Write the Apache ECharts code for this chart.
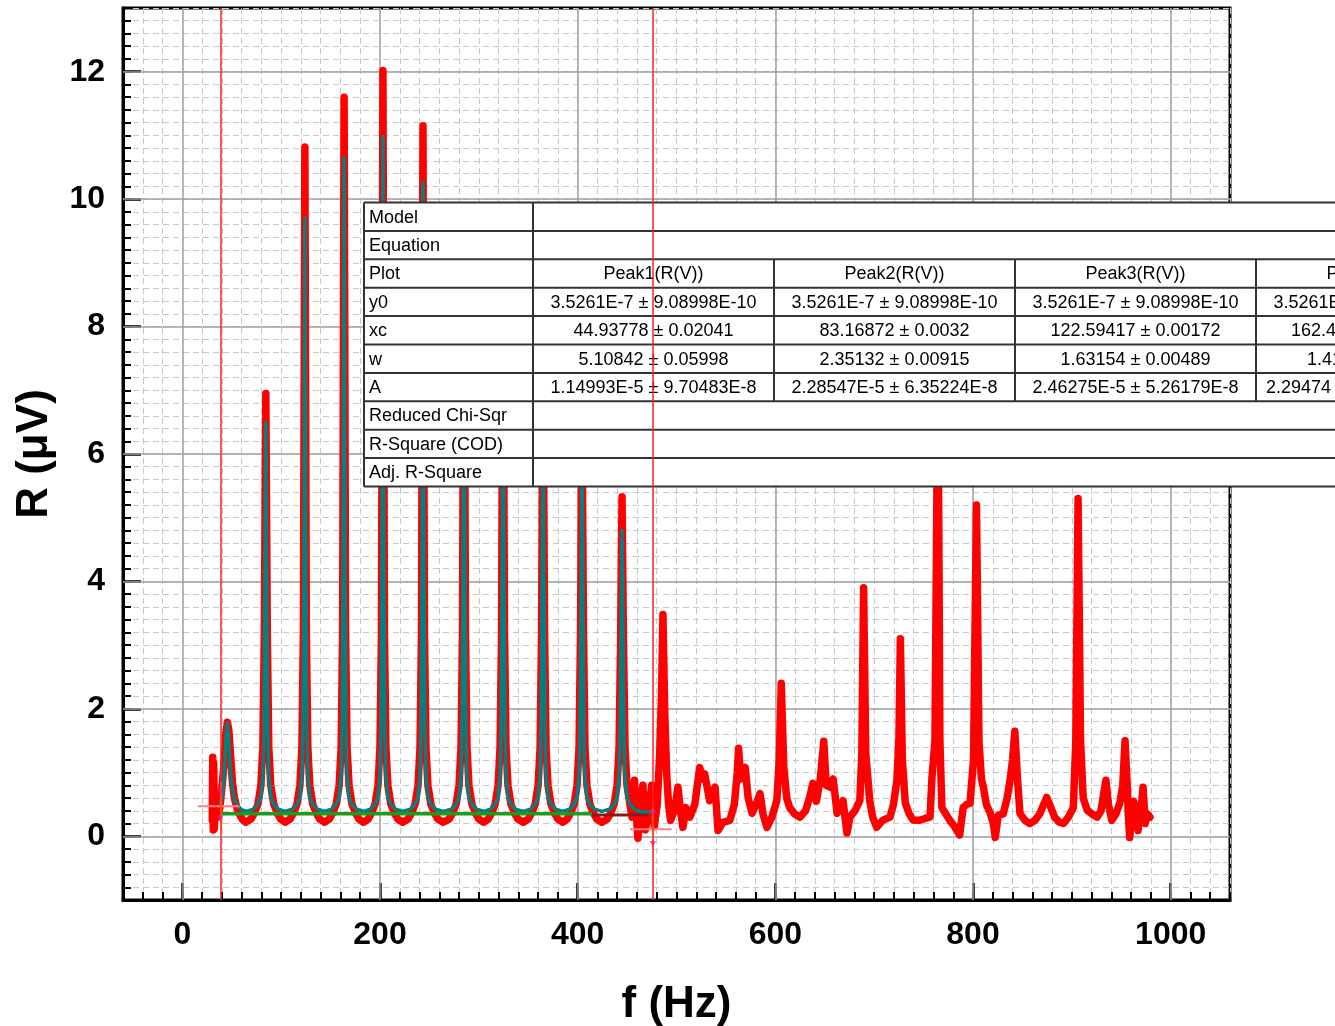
<!DOCTYPE html>
<html><head><meta charset="utf-8">
<script src="https://cdn.jsdelivr.net/npm/echarts@6/dist/echarts.min.js"></script>
<style>html,body{margin:0;padding:0;background:#fff}#c{width:1335px;height:1026px}</style>
</head><body><div id="c"></div>
<script>
// ---------- data ----------
const xMajorTicks = [0, 200, 400, 600, 800, 1000];
const yMajorTicks = [0, 2, 4, 6, 8, 10, 12];

// measured spectrum R (µV) vs f (Hz)
const redSpectrum = [
[30.3,0.25],[30.8,1.24],[31.3,0.1],[31.8,1.15],[32.4,0.12],[33,0.7],[34.5,0.35],[36,0.3],[38,0.45],[40,0.75],[42,1.1],[44,1.6],[45.6,1.79],[47.2,1.65],[48.7,1.3],[50.7,0.85],[52.7,0.6],[55.7,0.42],[58.7,0.32],[61,0.26],[64,0.22],[69.5,0.27],
[72.5,0.35],[76.5,0.5],[79.5,0.8],[81.5,1.4],[83,3.2],[84.5,6.95],[86,3.2],[87.5,1.4],[89.5,0.8],[92.5,0.5],[96.5,0.35],[99.5,0.27],[104,0.22],[109,0.27],
[112,0.35],[116,0.5],[119,0.8],[121,1.4],[122.5,3.2],[124,10.82],[125.5,3.2],[127,1.4],[129,0.8],[132,0.5],[136,0.35],[139,0.27],[144,0.22],[148.7,0.27],
[151.7,0.35],[155.7,0.5],[158.7,0.8],[160.7,1.4],[162.2,3.2],[163.7,11.6],[165.2,3.2],[166.7,1.4],[168.7,0.8],[171.7,0.5],[175.7,0.35],[178.7,0.27],[183.5,0.22],[188,0.27],
[191,0.35],[195,0.5],[198,0.8],[200,1.4],[201.5,3.2],[203,12.02],[204.5,3.2],[206,1.4],[208,0.8],[211,0.5],[215,0.35],[218,0.27],[223,0.22],[228.5,0.27],
[231.5,0.35],[235.5,0.5],[238.5,0.8],[240.5,1.4],[242,3.2],[243.5,11.15],[245,3.2],[246.5,1.4],[248.5,0.8],[251.5,0.5],[255.5,0.35],[258.5,0.27],[264,0.22],[270,0.27],
[273,0.35],[277,0.5],[280,0.8],[282,1.4],[283.5,3.2],[285,9.6],[286.5,3.2],[288,1.4],[290,0.8],[293,0.5],[297,0.35],[300,0.27],[305,0.22],[309.5,0.27],
[312.5,0.35],[316.5,0.5],[319.5,0.8],[321.5,1.4],[323,3.2],[324.5,8.6],[326,3.2],[327.5,1.4],[329.5,0.8],[332.5,0.5],[336.5,0.35],[339.5,0.27],[345,0.22],[350,0.27],
[353,0.35],[357,0.5],[360,0.8],[362,1.4],[363.5,3.2],[365,7.6],[366.5,3.2],[368,1.4],[370,0.8],[373,0.5],[377,0.35],[380,0.27],[385,0.22],[389.4,0.27],
[392.4,0.35],[396.4,0.5],[399.4,0.8],[401.4,1.4],[402.9,3.2],[404.4,6.6],[405.9,3.2],[407.4,1.4],[409.4,0.8],[412.4,0.5],[416.4,0.35],[419.4,0.27],[424.5,0.22],[429.9,0.27],
[432.9,0.35],[436.9,0.5],[439.9,0.8],[441.9,1.4],[443.4,3.0],[444.9,5.33],[446.4,3.0],[447.9,1.4],[449.9,0.8],[452.9,0.5],
[455,0.3],[457.5,0.88],[459.5,0.3],[461,-0.03],[463.5,0.4],[466,0.8],[468.5,0.1],[471.5,0.35],[475,0.8],[477.5,0.15],[480.5,0.5],[483,1.3],[484.8,2.2],[486.3,3.48],[488,2.0],[490,1.0],[492,0.5],[494,0.25],[498,0.42],[501.5,0.77],[504,0.4],[506.5,0.14],[509.5,0.45],[513.5,0.3],[518.5,0.5],[523.5,1.08],[526,0.9],[528.5,0.98],[533.5,0.56],[539,0.77],[542,0.09],[547,0.22],[554,0.25],[558.5,0.5],[561.5,1.0],[562.8,1.38],[565,0.9],[569.5,1.08],[572.5,0.6],[576.5,0.36],[580.5,0.5],[584.5,0.67],[587.5,0.35],[591.5,0.14],[596.5,0.3],[601.5,0.56],[604,1.2],[606,2.4],[608.5,1.1],[611.5,0.6],[614.5,0.45],[619.5,0.35],[625,0.3],[630.5,0.4],[634.5,0.6],[638,0.83],[641.5,0.55],[645.5,0.9],[649,1.49],[651.5,0.8],[655.5,0.77],[658.5,0.9],[662.5,0.36],[665.5,0.45],[668.5,0.56],[670.5,0.3],[672.5,0.05],[675.5,0.3],[680.5,0.4],[685.5,0.56],[687.5,1.3],[689.3,3.9],[691.5,1.3],[695.5,0.56],[698.5,0.3],[702.5,0.14],[708.5,0.25],[716,0.3],[719.5,0.5],[723,0.88],[725,1.5],[726.5,3.1],[728.5,1.2],[731.5,0.52],[735.5,0.35],[739.5,0.25],[745.5,0.25],[751.5,0.28],[756.5,0.3],[758.5,0.93],[761.5,1.5],[764.5,7.5],[766.5,1.5],[768.5,0.45],[772.5,0.35],[776.5,0.25],[781.5,0.15],[786.5,0.02],[790,0.45],[793.5,0.5],[797,0.52],[800.5,1.2],[803.5,5.2],[806,1.5],[808.5,0.9],[810.5,0.77],[813.5,0.5],[817.5,0.36],[820.5,0.2],[822.5,-0.02],[825.5,0.33],[830.5,0.35],[834.5,0.6],[837.5,0.88],[840,1.2],[842.3,1.65],[845,0.9],[847.5,0.36],[852.5,0.25],[857.5,0.2],[862.5,0.25],[867.5,0.35],[871.5,0.5],[874.5,0.61],[877.5,0.5],[882.5,0.3],[887.5,0.22],[891.5,0.2],[896.5,0.3],[901.5,0.45],[904,1.5],[906.3,5.3],[908.8,1.5],[911.5,0.6],[915.5,0.41],[920.5,0.35],[925.5,0.3],[929.5,0.4],[932.5,0.7],[934.5,0.88],[937,0.5],[940.5,0.25],[944.5,0.35],[948.5,0.52],[951.5,0.8],[953.8,1.5],[956,0.8],[957,0.36],[958.5,-0.02],[960.5,0.3],[962.5,0.55],[964,0.52],[965.5,0.3],[967,0.09],[968.5,0.4],[970.5,0.5],[972,0.77],[973.5,0.4],[974.2,0.2],[976.5,0.35],[979,0.3]
];

// multi-peak fit curve
const fitCurve = [
[38.5,0.52],[40.5,0.66],[42.5,1.0],[44.2,1.55],[45.6,1.78],[47,1.55],[48.7,1.0],[50.7,0.74],[53,0.57],[56,0.47],[61,0.41],[65,0.39],
[72.5,0.43],[76.5,0.5],[79.5,0.62],[81.5,0.95],[82.5,1.6],[83.5,3.8],[84.5,6.5],[85.5,3.8],[86.5,1.6],[87.5,0.95],[89.5,0.62],[92.5,0.5],[96.5,0.43],[104,0.39],
[112,0.43],[116,0.5],[119,0.62],[121,0.95],[122,1.65],[123,4.0],[124,9.7],[125,4.0],[126,1.65],[127,0.95],[129,0.62],[132,0.5],[136,0.43],[144,0.39],
[151.7,0.43],[155.7,0.5],[158.7,0.62],[160.7,0.95],[161.7,1.65],[162.7,4.0],[163.7,10.65],[164.7,4.0],[165.7,1.65],[166.7,0.95],[168.7,0.62],[171.7,0.5],[175.7,0.43],[183.5,0.39],
[191,0.43],[195,0.5],[198,0.62],[200,0.95],[201,1.65],[202,4.0],[203,10.98],[204,4.0],[205,1.65],[206,0.95],[208,0.62],[211,0.5],[215,0.43],[223,0.39],
[231.5,0.43],[235.5,0.5],[238.5,0.62],[240.5,0.95],[241.5,1.65],[242.5,4.0],[243.5,10.26],[244.5,4.0],[245.5,1.65],[246.5,0.95],[248.5,0.62],[251.5,0.5],[255.5,0.43],[264,0.39],
[273,0.43],[277,0.5],[280,0.62],[282,0.95],[283,1.65],[284,4.0],[285,9.0],[286,4.0],[287,1.65],[288,0.95],[290,0.62],[293,0.5],[297,0.43],[305,0.39],
[312.5,0.43],[316.5,0.5],[319.5,0.62],[321.5,0.95],[322.5,1.65],[323.5,4.0],[324.5,8.0],[325.5,4.0],[326.5,1.65],[327.5,0.95],[329.5,0.62],[332.5,0.5],[336.5,0.43],[345,0.39],
[353,0.43],[357,0.5],[360,0.62],[362,0.95],[363,1.65],[364,3.9],[365,7.0],[366,3.9],[367,1.65],[368,0.95],[370,0.62],[373,0.5],[377,0.43],[385,0.39],
[392.4,0.43],[396.4,0.5],[399.4,0.62],[401.4,0.95],[402.4,1.6],[403.4,3.7],[404.4,6.0],[405.4,3.7],[406.4,1.6],[407.4,0.95],[409.4,0.62],[412.4,0.5],[416.4,0.43],[424.5,0.39],
[432.9,0.43],[436.9,0.5],[439.9,0.62],[441.9,0.95],[442.9,1.55],[443.9,3.3],[444.9,4.8],[445.9,3.3],[446.9,1.55],[447.9,0.95],[449.9,0.62],[452.9,0.5],[456.9,0.43],[463,0.39],[468,0.38],[472.5,0.38]
];

const baselineGreen = [[39.2, 0.353], [414.5, 0.353]];
const baselineDark  = [[414.5, 0.335], [472, 0.335]];
const fitRangeMarkers = [39.2, 476.1];
const cursorPink = [[[16, 0.47], [58, 0.47]], [[453, 0.11], [495, 0.11]]];
const cursorYellow = [[[39.2, 0.09], [39.2, 0.85]], [[476.1, -0.22], [476.1, 0.44]]];
const cursorMagenta = [[38.6, 0.7], [38.6, 0.28], [476.1, 0.36], [476.1, -0.12]];

// fit-results table text
const tableRowLabels = ['Model','Equation','Plot','y0','xc','w','A','Reduced Chi-Sqr','R-Square (COD)','Adj. R-Square'];
const peakPlot = ['Peak1(R(V))','Peak2(R(V))','Peak3(R(V))','Peak4(R(V))'];
const peakY0 = ['3.5261E-7 ± 9.08998E-10','3.5261E-7 ± 9.08998E-10','3.5261E-7 ± 9.08998E-10','3.5261E-7 ± 9.08998E-10'];
const peakXc = ['44.93778 ± 0.02041','83.16872 ± 0.0032','122.59417 ± 0.00172'];
const peakW  = ['5.10842 ± 0.05998','2.35132 ± 0.00915','1.63154 ± 0.00489'];
const peakA  = ['1.14993E-5 ± 9.70483E-8','2.28547E-5 ± 6.35224E-8','2.46275E-5 ± 5.26179E-8'];
const col4Visible = { xc: '162.4', w: '1.41', A: '2.29474' };

// ---------- chart ----------
const chart = echarts.init(document.getElementById('c'), null, {renderer: 'canvas'});
const FONT = 'Liberation Sans, Arial, sans-serif';
const minorSplit = {show: true, lineStyle: {color: '#c8c8c8', width: 1, type: [6, 4]}};
const labelStyle = {color: '#000', fontSize: 32, fontWeight: 'bold', fontFamily: FONT, formatter: v => String(v)};
const nameStyle = {color: '#000', fontSize: 44, fontWeight: 'bold', fontFamily: FONT};

// table graphic
const T = {left: 364, top: 202.5, rowH: 28.4, labelW: 169, colW: 241};
const tableEls = [];
const tz = 4;
tableEls.push({type: 'rect', z: tz, shape: {x: T.left, y: T.top, width: 1000, height: T.rowH * 10}, style: {fill: '#fff'}});
for (let k = 0; k <= 10; k++) {
  const y = T.top + k * T.rowH;
  tableEls.push({type: 'line', z: tz + 1, shape: {x1: T.left, y1: y, x2: 1340, y2: y}, style: {stroke: '#333', lineWidth: 2}});
}
tableEls.push({type: 'line', z: tz + 1, shape: {x1: T.left, y1: T.top, x2: T.left, y2: T.top + 10 * T.rowH}, style: {stroke: '#333', lineWidth: 2}});
tableEls.push({type: 'line', z: tz + 1, shape: {x1: T.left + T.labelW, y1: T.top, x2: T.left + T.labelW, y2: T.top + 10 * T.rowH}, style: {stroke: '#333', lineWidth: 2}});
for (let c = 1; c <= 3; c++) {
  const x = T.left + T.labelW + c * T.colW;
  tableEls.push({type: 'line', z: tz + 1, shape: {x1: x, y1: T.top + 2 * T.rowH, x2: x, y2: T.top + 7 * T.rowH}, style: {stroke: '#333', lineWidth: 2}});
}
const tStyle = {fill: '#000', fontSize: 18, fontFamily: FONT};
tableRowLabels.forEach((s, i) => {
  tableEls.push({type: 'text', z: tz + 2, x: T.left + 5, y: T.top + (i + 0.5) * T.rowH + 1,
    style: Object.assign({text: s, align: 'left', verticalAlign: 'middle'}, tStyle)});
});
function addRow(rowIdx, arr) {
  arr.forEach((s, c) => {
    tableEls.push({type: 'text', z: tz + 2, x: T.left + T.labelW + (c + 0.5) * T.colW, y: T.top + (rowIdx + 0.5) * T.rowH + 1,
      style: Object.assign({text: s, align: 'center', verticalAlign: 'middle'}, tStyle)});
  });
}
addRow(2, peakPlot); addRow(3, peakY0); addRow(4, peakXc); addRow(5, peakW); addRow(6, peakA);
[['xc', 4, 1291], ['w', 5, 1307], ['A', 6, 1266]].forEach(([key, r, x]) => {
  tableEls.push({type: 'text', z: tz + 2, x: x, y: T.top + (r + 0.5) * T.rowH + 1,
    style: Object.assign({text: col4Visible[key], align: 'left', verticalAlign: 'middle'}, tStyle)});
});

const option = {
  animation: false,
  backgroundColor: '#fff',
  grid: {left: 123, top: 8, right: 105, bottom: 126, show: true, borderColor: '#000', borderWidth: 3,
         backgroundColor: 'transparent', outerBoundsMode: 'none', containLabel: false},
  xAxis: [
    {type: 'value', min: -60, max: 1060, interval: 20, position: 'bottom',
     axisLine: {show: true, onZero: false, lineStyle: {color: '#000', width: 3}},
     axisTick: {show: true, inside: true, length: 8, lineStyle: {color: '#000', width: 2}},
     axisLabel: Object.assign({show: true, customValues: xMajorTicks, margin: 19}, labelStyle),
     splitLine: minorSplit,
     name: 'f (Hz)', nameLocation: 'middle', nameGap: 83, nameTextStyle: nameStyle},
    {type: 'value', min: -60, max: 1060, position: 'bottom',
     axisLine: {show: false, onZero: false},
     axisTick: {show: true, inside: true, length: 17, customValues: xMajorTicks, lineStyle: {color: '#000', width: 2.5}},
     axisLabel: {show: false}, splitLine: {show: false}}
  ],
  yAxis: [
    {type: 'value', min: -1, max: 13, interval: 0.2, position: 'left',
     axisLine: {show: true, onZero: false, lineStyle: {color: '#000', width: 3}},
     axisTick: {show: true, inside: true, length: 8, lineStyle: {color: '#000', width: 2}},
     axisLabel: Object.assign({show: true, customValues: yMajorTicks, margin: 18}, labelStyle),
     splitLine: minorSplit,
     name: 'R (μV)', nameLocation: 'middle', nameGap: 66, nameRotate: 90, nameTextStyle: nameStyle},
    {type: 'value', min: -1, max: 13, position: 'left',
     axisLine: {show: false, onZero: false},
     axisTick: {show: true, inside: true, length: 18, customValues: yMajorTicks, lineStyle: {color: '#000', width: 2.5}},
     axisLabel: {show: false}, splitLine: {show: false}}
  ],
  graphic: {elements: tableEls},
  series: [
    {type: 'line', name: 'majorGrid', z: 1, data: [[0, -5]], symbol: 'none', lineStyle: {opacity: 0}, silent: true,
     markLine: {z: 1, silent: true, symbol: 'none', label: {show: false},
       lineStyle: {color: '#a0a0a0', width: 1.5, type: 'solid'},
       data: xMajorTicks.map(v => ({xAxis: v})).concat(yMajorTicks.map(v => ({yAxis: v})))}},
    {type: 'line', name: 'R', z: 2, data: redSpectrum, symbol: 'none', silent: true,
     lineStyle: {color: '#ff0000', width: 7.5, join: 'round', cap: 'round'}},
    {type: 'line', name: 'fit', z: 3, data: fitCurve, symbol: 'none', silent: true,
     lineStyle: {color: '#008080', width: 3.5, join: 'round', cap: 'round'}},
    {type: 'line', name: 'baseline', z: 3, data: baselineGreen, symbol: 'none', silent: true,
     lineStyle: {color: '#1f9a1f', width: 3.5}},
    {type: 'line', name: 'baseline2', z: 3, data: baselineDark, symbol: 'none', silent: true,
     lineStyle: {color: '#8b1a1a', width: 3}},
    ...cursorPink.map(seg => ({type: 'line', z: 3, data: seg, symbol: 'none', silent: true, lineStyle: {color: '#ff8080', width: 2}})),
    ...cursorYellow.map(seg => ({type: 'line', z: 3, data: seg, symbol: 'none', silent: true, lineStyle: {color: '#ffd700', width: 2}})),
    {type: 'scatter', z: 3, data: cursorMagenta, symbol: 'triangle', symbolSize: 6, symbolRotate: 180, silent: true,
     itemStyle: {color: '#ff00ff'}},
    {type: 'line', name: 'fitRange', z: 6, data: [[0, -5]], symbol: 'none', lineStyle: {opacity: 0}, silent: true,
     markLine: {z: 6, silent: true, symbol: 'none', label: {show: false},
       lineStyle: {color: '#ff2020', width: 1.5, type: 'solid'},
       data: fitRangeMarkers.map(v => ({xAxis: v}))}}
  ]
};
chart.setOption(option);
</script>
</body></html>
